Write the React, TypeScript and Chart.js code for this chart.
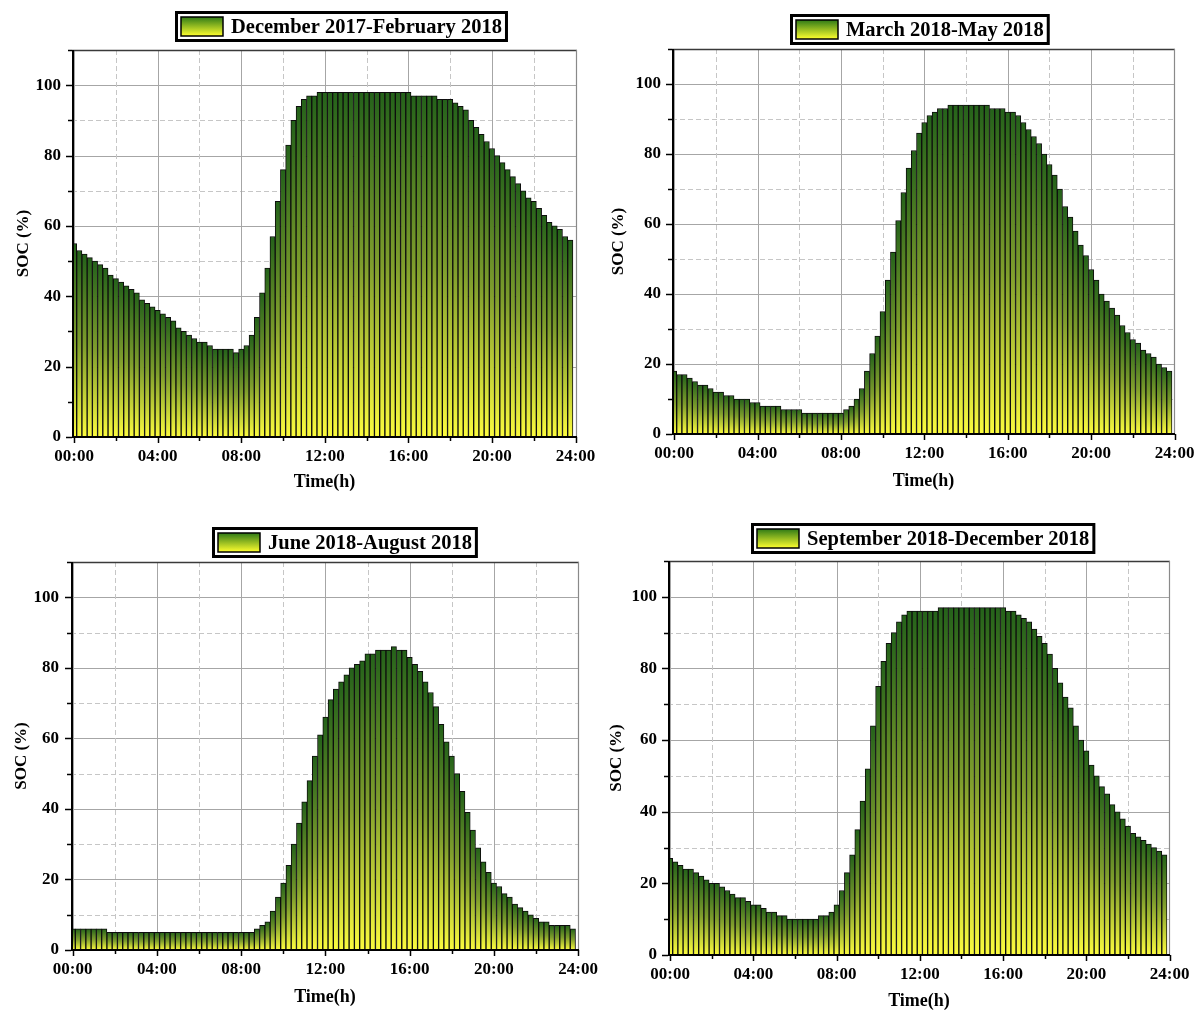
import React, { useEffect, useRef } from 'react';
import { Chart, registerables } from 'chart.js';

Chart.register(...registerables);

const FONT = '"Liberation Serif", "Times New Roman", serif';

// 15-minute time slots (hours)
const TIME_SLOTS: number[] = Array.from({ length: 96 }, (_, i) => i * 0.25);
const X_MAJOR = [0, 4, 8, 12, 16, 20, 24];
const X_MINOR = [2, 6, 10, 14, 18, 22];
const Y_MAJOR = [0, 20, 40, 60, 80, 100];
const Y_MINOR = [10, 30, 50, 70, 90, 110];

const SEASONS = [
  'December 2017-February 2018',
  'March 2018-May 2018',
  'June 2018-August 2018',
  'September 2018-December 2018',
];

const SOC_DEC_FEB = [
  55, 53, 52, 51, 50, 49, 48, 46, 45, 44, 43, 42, 41, 39, 38, 37, 36, 35, 34, 33, 31, 30, 29, 28,
  27, 27, 26, 25, 25, 25, 25, 24, 25, 26, 29, 34, 41, 48, 57, 67, 76, 83, 90, 94, 96, 97, 97, 98,
  98, 98, 98, 98, 98, 98, 98, 98, 98, 98, 98, 98, 98, 98, 98, 98, 98, 97, 97, 97, 97, 97, 96, 96,
  96, 95, 94, 93, 90, 88, 86, 84, 82, 80, 78, 76, 74, 72, 70, 68, 67, 65, 63, 61, 60, 59, 57, 56,
];

const SOC_MAR_MAY = [
  18, 17, 17, 16, 15, 14, 14, 13, 12, 12, 11, 11, 10, 10, 10, 9, 9, 8, 8, 8, 8, 7, 7, 7,
  7, 6, 6, 6, 6, 6, 6, 6, 6, 7, 8, 10, 13, 18, 23, 28, 35, 44, 52, 61, 69, 76, 81, 86,
  89, 91, 92, 93, 93, 94, 94, 94, 94, 94, 94, 94, 94, 93, 93, 93, 92, 92, 91, 89, 87, 85, 83, 80,
  77, 74, 70, 65, 62, 58, 54, 51, 47, 44, 40, 38, 36, 34, 31, 29, 27, 26, 24, 23, 22, 20, 19, 18,
];

const SOC_JUN_AUG = [
  6, 6, 6, 6, 6, 6, 6, 5, 5, 5, 5, 5, 5, 5, 5, 5, 5, 5, 5, 5, 5, 5, 5, 5,
  5, 5, 5, 5, 5, 5, 5, 5, 5, 5, 5, 6, 7, 8, 11, 15, 19, 24, 30, 36, 42, 48, 55, 61,
  66, 71, 74, 76, 78, 80, 81, 82, 84, 84, 85, 85, 85, 86, 85, 85, 83, 81, 79, 76, 73, 69, 64, 59,
  55, 50, 45, 39, 34, 29, 25, 22, 19, 18, 16, 15, 13, 12, 11, 10, 9, 8, 8, 7, 7, 7, 7, 6,
];

const SOC_SEP_DEC = [
  27, 26, 25, 24, 24, 23, 22, 21, 20, 20, 19, 18, 17, 16, 16, 15, 14, 14, 13, 12, 12, 11, 11, 10,
  10, 10, 10, 10, 10, 11, 11, 12, 14, 18, 23, 28, 35, 43, 52, 64, 75, 82, 87, 90, 93, 95, 96, 96,
  96, 96, 96, 96, 97, 97, 97, 97, 97, 97, 97, 97, 97, 97, 97, 97, 97, 96, 96, 95, 94, 93, 91, 89,
  87, 84, 80, 76, 72, 69, 64, 60, 57, 53, 50, 47, 45, 42, 40, 38, 36, 34, 33, 32, 31, 30, 29, 28,
];

type PanelSpec = {
  title: string;
  values: number[];
  canvas: [number, number, number, number];
  area: [number, number, number, number];
  xRange: [number, number];
  xLabelY: number;
  xTitleY: number;
  yTitleX: number;
  yLabelRight: number;
  legend: [number, number];
};

const PANELS: PanelSpec[] = [
  {
    title: SEASONS[0], values: SOC_DEC_FEB,
    canvas: [0, 0, 640, 507], area: [72, 50, 577, 437], xRange: [-0.1, 24.07],
    xLabelY: 457, xTitleY: 482, yTitleX: 24, yLabelRight: 61, legend: [175, 11],
  },
  {
    title: SEASONS[1], values: SOC_MAR_MAY,
    canvas: [590, 0, 613, 507], area: [672, 49, 1175, 434], xRange: [-0.1, 24.02],
    xLabelY: 454, xTitleY: 481, yTitleX: 619, yLabelRight: 661, legend: [790, 14],
  },
  {
    title: SEASONS[2], values: SOC_JUN_AUG,
    canvas: [0, 507, 640, 507], area: [71, 562, 579, 950], xRange: [-0.08, 24.04],
    xLabelY: 970, xTitleY: 997, yTitleX: 22, yLabelRight: 59, legend: [212, 527],
  },
  {
    title: SEASONS[3], values: SOC_SEP_DEC,
    canvas: [590, 507, 613, 507], area: [668, 561, 1170, 955], xRange: [-0.1, 24.02],
    xLabelY: 975, xTitleY: 1001, yTitleX: 617, yLabelRight: 657, legend: [751, 523],
  },
];

function barFill(c: any) {
  const chart = c.chart;
  const ys = chart.scales && chart.scales.y;
  if (!chart.chartArea || !ys || !c.parsed) return '#7d9c2a';
  const top = ys.getPixelForValue(c.parsed.y);
  const base = ys.getPixelForValue(0);
  if (!(base - top > 0.5)) return '#f5f53c';
  const g = chart.ctx.createLinearGradient(0, top, 0, base);
  g.addColorStop(0, '#24621a');
  g.addColorStop(0.5, '#7f9e2c');
  g.addColorStop(1, '#fbfb3e');
  return g;
}

const originPlugin = {
  id: 'originFrame',
  beforeDatasetsDraw(chart: any) {
    const { ctx, chartArea: a } = chart;
    const xs = chart.scales.x;
    const ys = chart.scales.y;
    ctx.save();
    ctx.lineWidth = 1;
    const hline = (v: number, dashed: boolean) => {
      const py = Math.round(ys.getPixelForValue(v)) + 0.5;
      if (py <= a.top + 1) return;
      ctx.strokeStyle = dashed ? '#c6c6c6' : '#a6a6a6';
      ctx.setLineDash(dashed ? [5, 3] : []);
      ctx.beginPath();
      ctx.moveTo(a.left, py);
      ctx.lineTo(a.right, py);
      ctx.stroke();
    };
    const vline = (v: number, dashed: boolean) => {
      const px = Math.round(xs.getPixelForValue(v)) + 0.5;
      if (px <= a.left + 1 || px >= a.right - 1) return;
      ctx.strokeStyle = dashed ? '#c6c6c6' : '#a6a6a6';
      ctx.setLineDash(dashed ? [5, 3] : []);
      ctx.beginPath();
      ctx.moveTo(px, a.top);
      ctx.lineTo(px, a.bottom);
      ctx.stroke();
    };
    Y_MAJOR.forEach((v) => v > 0 && hline(v, false));
    Y_MINOR.forEach((v) => hline(v, true));
    X_MAJOR.forEach((v) => vline(v, false));
    X_MINOR.forEach((v) => vline(v, true));
    ctx.restore();
  },
  afterDatasetsDraw(chart: any) {
    const { ctx, chartArea: a } = chart;
    const xs = chart.scales.x;
    const ys = chart.scales.y;
    ctx.save();
    ctx.setLineDash([]);
    // top & right frame
    ctx.strokeStyle = '#3a3a3a';
    ctx.lineWidth = 1.5;
    ctx.beginPath();
    ctx.moveTo(a.left, a.top + 0.5);
    ctx.lineTo(a.right, a.top + 0.5);
    ctx.stroke();
    ctx.strokeStyle = '#8a8a8a';
    ctx.lineWidth = 1.2;
    ctx.beginPath();
    ctx.moveTo(a.right - 0.5, a.top);
    ctx.lineTo(a.right - 0.5, a.bottom);
    ctx.stroke();
    // left & bottom axes
    ctx.strokeStyle = '#000';
    ctx.lineWidth = 2;
    ctx.beginPath();
    ctx.moveTo(a.left + 1, a.top);
    ctx.lineTo(a.left + 1, a.bottom + 1);
    ctx.stroke();
    ctx.beginPath();
    ctx.moveTo(a.left, a.bottom);
    ctx.lineTo(a.right, a.bottom);
    ctx.stroke();
    // tick marks
    ctx.lineWidth = 1.5;
    Y_MAJOR.forEach((v) => {
      const py = Math.round(ys.getPixelForValue(v)) + 0.5;
      ctx.beginPath();
      ctx.moveTo(a.left - 6, py);
      ctx.lineTo(a.left, py);
      ctx.stroke();
    });
    Y_MINOR.forEach((v) => {
      const py = Math.round(ys.getPixelForValue(v)) + 0.5;
      ctx.beginPath();
      ctx.moveTo(a.left - 4, py);
      ctx.lineTo(a.left, py);
      ctx.stroke();
    });
    X_MAJOR.forEach((v) => {
      const px = Math.round(xs.getPixelForValue(v)) + 0.5;
      ctx.beginPath();
      ctx.moveTo(px, a.bottom);
      ctx.lineTo(px, a.bottom + 6);
      ctx.stroke();
    });
    X_MINOR.forEach((v) => {
      const px = Math.round(xs.getPixelForValue(v)) + 0.5;
      ctx.beginPath();
      ctx.moveTo(px, a.bottom);
      ctx.lineTo(px, a.bottom + 4);
      ctx.stroke();
    });
    ctx.restore();
  },
  afterDraw(chart: any, _args: any, opts: any) {
    if (!opts || !opts.text) return;
    const { ctx } = chart;
    ctx.save();
    ctx.font = `bold 20.5px ${FONT}`;
    const tw = ctx.measureText(opts.text).width;
    const x = opts.x;
    const y = opts.y;
    const h = 31;
    const w = 5 + 43 + 8 + tw + 6;
    ctx.fillStyle = '#fff';
    ctx.fillRect(x, y, w, h);
    ctx.strokeStyle = '#000';
    ctx.lineWidth = 3;
    ctx.strokeRect(x + 1.5, y + 1.5, w - 3, h - 3);
    const sx = x + 6, sy = y + 6, sw = 42, sh = h - 12;
    const g = ctx.createLinearGradient(0, sy, 0, sy + sh);
    g.addColorStop(0, '#2f7a16');
    g.addColorStop(1, '#ffff2e');
    ctx.fillStyle = g;
    ctx.fillRect(sx, sy, sw, sh);
    ctx.lineWidth = 1.5;
    ctx.strokeRect(sx, sy, sw, sh);
    ctx.fillStyle = '#000';
    ctx.textBaseline = 'middle';
    ctx.textAlign = 'left';
    ctx.fillText(opts.text, x + 56, y + h / 2 + 1);
    ctx.restore();
  },
};

function buildConfig(p: PanelSpec): any {
  const [cx, cy, cw, ch] = p.canvas;
  const l = p.area[0] - cx;
  const t = p.area[1] - cy;
  const r = p.area[2] - cx;
  const b = p.area[3] - cy;
  const padLeft = 4;
  const yWidth = l - padLeft;
  const padRight = cw - r;
  const padBottom = 2;
  const xHeight = ch - b - padBottom;
  const TICK = 17;
  const TITLE_X = 18;
  const TITLE_Y = 17;
  const xTickPad = p.xLabelY - cy - b - (TICK * 1.2) / 2;
  const xTitlePad = b + xHeight - (TITLE_X * 1.2) / 2 - (p.xTitleY - cy);
  const yTickPad = l - (p.yLabelRight - cx);
  const yTitlePad = p.yTitleX - cx - padLeft - (TITLE_Y * 1.2) / 2;
  const tickFont = { family: FONT, size: TICK, weight: 'bold' };

  return {
    type: 'bar',
    data: {
      datasets: [
        {
          data: p.values.map((v, i) => ({ x: TIME_SLOTS[i], y: v })),
          backgroundColor: barFill,
          borderColor: '#0d0d0d',
          borderWidth: 1,
          borderSkipped: 'start',
          barPercentage: 1,
          categoryPercentage: 1,
        },
      ],
    },
    options: {
      responsive: false,
      animation: false,
      events: [],
      layout: { padding: { left: padLeft, top: t, right: padRight, bottom: padBottom } },
      plugins: {
        legend: { display: false },
        tooltip: { enabled: false },
        originFrame: { x: p.legend[0] - cx, y: p.legend[1] - cy, text: p.title },
      },
      scales: {
        x: {
          type: 'linear',
          offset: false,
          bounds: 'data',
          min: p.xRange[0],
          max: p.xRange[1],
          grid: { display: false, drawTicks: false, offset: false },
          border: { display: false },
          afterBuildTicks: (s: any) => {
            s.ticks = X_MAJOR.map((v) => ({ value: v }));
          },
          afterFit: (s: any) => {
            s.height = xHeight;
            s.paddingLeft = 0;
            s.paddingRight = 0;
            s.paddingTop = 0;
            s.paddingBottom = 0;
          },
          ticks: {
            padding: xTickPad,
            autoSkip: false,
            includeBounds: false,
            maxRotation: 0,
            minRotation: 0,
            color: '#000',
            font: tickFont,
            callback: (v: any) => `${String(v).padStart(2, '0')}:00`,
          },
          title: {
            display: true,
            text: 'Time(h)',
            color: '#000',
            font: { family: FONT, size: TITLE_X, weight: 'bold' },
            padding: { top: 0, bottom: xTitlePad },
          },
        },
        y: {
          type: 'linear',
          bounds: 'data',
          min: 0,
          max: 110,
          grid: { display: false, drawTicks: false },
          border: { display: false },
          afterBuildTicks: (s: any) => {
            s.ticks = Y_MAJOR.map((v) => ({ value: v }));
          },
          afterFit: (s: any) => {
            s.width = yWidth;
            s.paddingLeft = 0;
            s.paddingRight = 0;
            s.paddingTop = 0;
            s.paddingBottom = 0;
          },
          ticks: {
            padding: yTickPad,
            includeBounds: false,
            color: '#000',
            font: tickFont,
            callback: (v: any) => String(v),
          },
          title: {
            display: true,
            text: 'SOC (%)',
            color: '#000',
            font: { family: FONT, size: TITLE_Y, weight: 'bold' },
            padding: { top: yTitlePad, bottom: 0 },
          },
        },
      },
    },
    plugins: [originPlugin],
  };
}

function Panel({ spec }: { spec: PanelSpec }) {
  const ref = useRef<HTMLCanvasElement>(null);
  useEffect(() => {
    if (!ref.current) return;
    const chart = new Chart(ref.current, buildConfig(spec));
    return () => chart.destroy();
  }, [spec]);
  const [x, y, w, h] = spec.canvas;
  return (
    <canvas
      ref={ref}
      width={w}
      height={h}
      style={{ position: 'absolute', left: x, top: y, width: w, height: h }}
    />
  );
}

export default function App() {
  return (
    <div
      style={{
        position: 'absolute',
        left: 0,
        top: 0,
        width: 1203,
        height: 1014,
        overflow: 'hidden',
        background: '#fff',
      }}
    >
      {PANELS.map((p, i) => (
        <Panel key={i} spec={p} />
      ))}
    </div>
  );
}
